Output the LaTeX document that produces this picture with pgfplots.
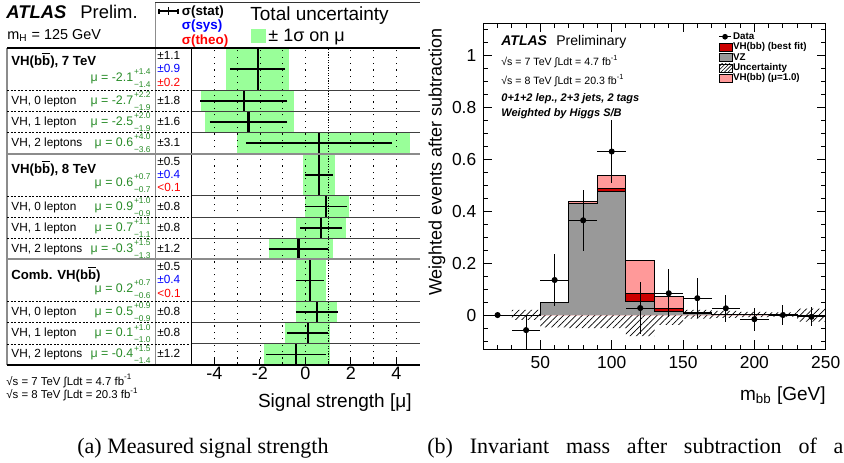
\documentclass[border=0pt]{standalone}
\usepackage{graphicx}
\usepackage{pgfplots}
\pgfplotsset{compat=1.18}
\usepackage{pgfplotstable}
\usepgfplotslibrary{fillbetween}
\usetikzlibrary{patterns.meta}
\usepackage{fontspec}
\setmainfont{Liberation Serif}
\setsansfont{Liberation Sans}

\definecolor{boxgreen}{RGB}{153,255,153}
\definecolor{mugreen}{RGB}{40,140,40}
\definecolor{vzgray}{RGB}{153,153,153}
\definecolor{fitred}{RGB}{204,0,0}
\definecolor{mupink}{RGB}{255,153,153}
\definecolor{sepgray}{RGB}{140,140,140}

\newcommand\fs[1]{\fontsize{#1}{#1}\selectfont}
\newcommand\bbar{b$\overline{\mbox{b}}$}
% mu = value with stacked up/down errors
\newcommand\muval[3]{\textcolor{mugreen}{μ = #1\kern0.4pt\makebox[0pt][l]{\raisebox{3.4pt}{\fs{4.2}#2}}\raisebox{-3pt}{\fs{4.2}#3}}}

% left panel: rows counted from the bottom (sub-channel rows 1 unit, combined rows 2 units)
\pgfplotstableread{
yc mu up dn stat
14 -2.1 1.4 1.4 1.1
9 0.6 0.7 0.7 0.5
4 0.2 0.7 0.6 0.5
}\combrows
\pgfplotstableread{
yc mu up dn stat
12.5 -2.7 2.2 1.9 1.8
11.5 -2.5 2.0 1.9 1.6
10.5 0.6 4.0 3.6 3.1
7.5 0.9 1.0 0.9 0.8
6.5 0.7 1.1 1.1 0.8
5.5 -0.3 1.5 1.3 1.2
2.5 0.5 0.9 0.9 0.8
1.5 0.1 1.0 1.0 0.8
0.5 -0.4 1.5 1.4 1.2
}\chanrows

% right panel: bin left edges, cumulative stack tops
\pgfplotstableread{
x vz fit mu1
10 0 0 0
30 0 0 0
50 0.047 0.047 0.047
70 0.428 0.431 0.438
90 0.475 0.488 0.539
110 0.051 0.084 0.212
130 0.015 0.026 0.073
150 0.006 0.006 0.008
170 0.004 0.004 0.004
190 0.002 0.002 0.002
210 0.001 0.001 0.001
230 0 0 0
250 0 0 0
}\stack
\pgfplotstableread{
x lo hi
30 -0.019 0.020
50 -0.047 0.045
70 -0.050 0.049
90 -0.050 0.049
110 -0.081 0.058
130 -0.038 0.032
150 -0.014 0.020
170 -0.011 0.016
190 -0.008 0.012
210 -0.006 0.010
230 -0.025 0.025
250 -0.025 0.025
}\band
\pgfplotstableread{
x y ex eyp eym
20 0.000 10 0.006 0.006
40 -0.058 10 0.055 0.075
60 0.135 10 0.100 0.100
80 0.365 10 0.117 0.117
100 0.630 10 0.120 0.120
120 0.027 10 0.100 0.100
140 0.084 10 0.092 0.092
160 0.065 10 0.076 0.076
180 0.026 10 0.051 0.051
200 -0.016 10 0.044 0.044
220 0.000 10 0.040 0.040
240 -0.007 10 0.037 0.037
}\datapts

\begin{document}
\begin{tikzpicture}[x=0.5pt, y=-0.5pt, font=\sffamily]

%% ---------------- left panel ----------------
\begin{axis}[
  at={(95.85pt,-182.5pt)}, anchor=south west,
  scale only axis, width=113.65pt, height=158.5pt,
  xmin=-5, xmax=5, ymin=0, ymax=15,
  axis line style={draw=none},
  ytick=\empty,
  xtick={-4,-2,0,2,4}, minor xtick={-3,-1,3},
  xtick pos=left, tick align=inside,
  major tick length=3pt, minor tick length=1.5pt,
  tick style={black, line width=0.5pt},
  grid=both,
  major grid style={black, line width=0.35pt, dash pattern=on 0.6pt off 2.6pt},
  minor grid style={black, line width=0.35pt, dash pattern=on 0.6pt off 2.6pt},
  extra x ticks={1}, extra x tick labels={},
  extra x tick style={grid=major, major tick length=1.5pt,
    major grid style={black, line width=0.35pt, dash pattern=on 0.6pt off 0.7pt}},
  axis on top,
  xticklabel style={font=\sffamily\fs{9}, inner sep=0pt, anchor=north, yshift=-0.8pt},
  /pgf/number format/assume math mode=true,
]
% total uncertainty boxes
\addplot[draw=none, mark=none, error bars/.cd, x dir=both, x explicit, error mark=none,
  error bar style={draw=boxgreen, line width=21.13pt}]
  table[x=mu, y=yc, x error plus=up, x error minus=dn]{\combrows};
\addplot[draw=none, mark=none, error bars/.cd, x dir=both, x explicit, error mark=none,
  error bar style={draw=boxgreen, line width=10.57pt}]
  table[x=mu, y=yc, x error plus=up, x error minus=dn]{\chanrows};
% statistical errors
\addplot[draw=none, mark=none, error bars/.cd, x dir=both, x explicit,
  error bar style={draw=black, line width=0.9pt},
  error mark options={black, line width=0.9pt, mark size=1.3pt}]
  table[x=mu, y=yc, x error=stat]{\combrows};
\addplot[draw=none, mark=none, error bars/.cd, x dir=both, x explicit,
  error bar style={draw=black, line width=0.9pt},
  error mark options={black, line width=0.9pt, mark size=1.3pt}]
  table[x=mu, y=yc, x error=stat]{\chanrows};
% central values
\addplot[draw=none, mark=none, error bars/.cd, y dir=both, y fixed=1, error mark=none,
  error bar style={draw=black, line width=1.1pt}]
  table[x=mu, y=yc]{\combrows};
\addplot[draw=none, mark=none, error bars/.cd, y dir=both, y fixed=0.5, error mark=none,
  error bar style={draw=black, line width=1.1pt}]
  table[x=mu, y=yc]{\chanrows};
\end{axis}

% table frame
\draw[sepgray, line width=0.7pt] (7,48) -- (7,365);
\draw[sepgray, line width=0.5pt] (155,2.7) -- (155,365);
\draw[black!80, line width=0.5pt] (155,2.7) -- (419.5,2.7);
\draw[black, line width=0.7pt] (7,48) -- (419.5,48);
\draw[black, line width=0.6pt] (191.7,48) -- (191.7,365);
\draw[black, line width=0.6pt] (7,365) -- (419.5,365);
\foreach \y in {90.3,111.4,132.5,195.9,217.1,238.2,301.6,322.7,343.9} {
  \draw[black, line width=0.4pt, dash pattern=on 1pt off 0.8pt] (7,\y) -- (191.7,\y);
  \draw[black!75, line width=0.45pt] (191.7,\y) -- (419.5,\y);
}
\foreach \y in {153.7,259.3} \draw[sepgray, line width=1pt] (7,\y) -- (419.5,\y);

% titles
\node[anchor=base west, inner sep=0pt] at (6,18.5) {\fs{9.2}\bfseries\itshape ATLAS};
\node[anchor=base west, inner sep=0pt] at (80,18.5) {\fs{9.2}Prelim.};
\node[anchor=base west, inner sep=0pt] at (7,39.3) {\fs{7.2}m\textsubscript{H} = 125 GeV};

% header
\draw[black, line width=0.9pt] (159,11) -- (178,11);
\draw[black, line width=0.7pt] (159,8.5) -- (159,13.5) (178,8.5) -- (178,13.5) (168.5,7) -- (168.5,15);
\node[anchor=base west, inner sep=0pt] at (181.5,15) {\fs{6.7}\bfseries σ(stat)};
\node[anchor=base west, inner sep=0pt, blue] at (181.5,29.5) {\fs{6.7}\bfseries σ(sys)};
\node[anchor=base west, inner sep=0pt, red] at (181.5,44) {\fs{6.7}\bfseries σ(theo)};
\node[anchor=base west, inner sep=0pt] at (250,20.7) {\fs{9.5}Total uncertainty};
\fill[boxgreen] (250.5,28.5) rectangle (265.5,42.5);
\node[anchor=base west, inner sep=0pt] at (268,41.5) {\fs{9}± 1σ on μ};

% table text: combined rows
\node[anchor=base west, inner sep=0pt] at (11,65.7) {\fs{6.6}\bfseries VH(\bbar), 7 TeV};
\node[anchor=base west, inner sep=0pt] at (11,173.3) {\fs{6.6}\bfseries VH(\bbar), 8 TeV};
\node[anchor=base west, inner sep=0pt] at (11,279.5) {\fs{6.6}\bfseries Comb. VH(\bbar)};
\node[anchor=base east, inner sep=0pt] at (151,81) {\fs{6.2}\muval{-2.1}{+1.4}{−1.4}};
\node[anchor=base east, inner sep=0pt] at (151,186) {\fs{6.2}\muval{0.6}{+0.7}{−0.7}};
\node[anchor=base east, inner sep=0pt] at (151,292) {\fs{6.2}\muval{0.2}{+0.7}{−0.6}};
\foreach \t/\a/\b/\c in {48/±1.1/±0.9/±0.2, 153.7/±0.5/±0.4/<0.1, 259.3/±0.5/±0.4/<0.1} {
  \node[anchor=base west, inner sep=0pt] at (157,\t+11.3) {\fs{5.9}\a};
  \node[anchor=base west, inner sep=0pt, blue] at (157,\t+24.6) {\fs{5.9}\b};
  \node[anchor=base west, inner sep=0pt, red] at (157,\t+38) {\fs{5.9}\c};
}
% table text: channel rows
\foreach \c/\lab/\m/\u/\d/\s in {
  100.8/VH{,} 0 lepton/-2.7/+2.2/−1.9/±1.8,
  122.0/VH{,} 1 lepton/-2.5/+2.0/−1.9/±1.6,
  143.1/VH{,} 2 leptons/0.6/+4.0/−3.6/±3.1,
  206.5/VH{,} 0 lepton/0.9/+1.0/−0.9/±0.8,
  227.6/VH{,} 1 lepton/0.7/+1.1/−1.1/±0.8,
  248.8/VH{,} 2 leptons/-0.3/+1.5/−1.3/±1.2,
  312.2/VH{,} 0 lepton/0.5/+0.9/−0.9/±0.8,
  333.3/VH{,} 1 lepton/0.1/+1.0/−1.0/±0.8,
  354.4/VH{,} 2 leptons/-0.4/+1.5/−1.4/±1.2} {
  \node[anchor=base west, inner sep=0pt] at (11,\c+3.5) {\fs{5.9}\lab};
  \node[anchor=base east, inner sep=0pt] at (151,\c+3.5) {\fs{6.2}\muval{\m}{\u}{\d}};
  \node[anchor=base west, inner sep=0pt] at (157,\c+3.5) {\fs{5.9}\s};
}

\node[anchor=base east, inner sep=0pt] at (412,407) {\fs{9.5}Signal strength [μ]};
\node[anchor=base west, inner sep=0pt] at (6,385) {\fs{5.7}√s = 7 TeV ∫Ldt = 4.7 fb\textsuperscript{-1}};
\node[anchor=base west, inner sep=0pt] at (6,398.3) {\fs{5.7}√s = 8 TeV ∫Ldt = 20.3 fb\textsuperscript{-1}};

%% ---------------- right panel ----------------
\begin{axis}[
  at={(241.65pt,-174.65pt)}, anchor=south west,
  scale only axis, width=171.2pt, height=163pt,
  xmin=10, xmax=250, ymin=-0.132, ymax=1.124,
  xtick={50,100,150,200,250},
  minor xtick={20,30,40,60,70,80,90,110,120,130,140,160,170,180,190,210,220,230,240},
  ytick={0,0.2,0.4,0.6,0.8,1},
  minor ytick={-0.1,-0.05,0.05,0.1,0.15,0.25,0.3,0.35,0.45,0.5,0.55,0.65,0.7,0.75,0.85,0.9,0.95,1.05,1.1},
  tick align=inside, major tick length=4.5pt, minor tick length=2.3pt,
  axis line style={line width=0.6pt},
  tick style={black, line width=0.5pt},
  ticklabel style={font=\sffamily\fs{8.7}},
  /pgf/number format/assume math mode=true,
  legend cell align=left,
  legend style={at={(0.686,0.975)}, anchor=north west, draw=none, fill=none,
    font=\sffamily\bfseries\fs{4.9}, inner sep=0pt, row sep=0.3pt,
    nodes={inner sep=0.3pt, text height=3.4pt, text depth=0.9pt}},
]
\addplot[const plot mark left, fill=mupink, draw=black, line width=0.5pt, forget plot]
  table[x=x, y=mu1]{\stack};
\addplot[const plot mark left, fill=fitred, draw=black, line width=0.5pt, forget plot]
  table[x=x, y=fit]{\stack};
\addplot[const plot mark left, fill=vzgray, draw=black, line width=0.5pt, forget plot]
  table[x=x, y=vz]{\stack};
\addplot[const plot mark left, draw=none, name path=bandhi, forget plot] table[x=x, y=hi]{\band};
\addplot[const plot mark left, draw=none, name path=bandlo, forget plot] table[x=x, y=lo]{\band};
\addplot[draw=none, pattern={Lines[angle=45, distance=2.2pt, line width=0.35pt]}, pattern color=black, forget plot]
  fill between[of=bandhi and bandlo];
\addplot[only marks, mark=*, mark size=1.3pt, black, forget plot,
  error bars/.cd, x dir=both, y dir=both, x explicit, y explicit, error mark=none,
  error bar style={line width=0.5pt, black}]
  table[x=x, y=y, x error=ex, y error plus=eyp, y error minus=eym]{\datapts};

\addlegendimage{legend image code/.code={\draw[black, line width=0.45pt] (0pt,0pt) -- (6pt,0pt); \fill[black] (3pt,0pt) circle (1.2pt);}}
\addlegendentry{Data}
\addlegendimage{legend image code/.code={\draw[black, line width=0.4pt, fill=fitred] (0pt,-2pt) rectangle (6.5pt,2pt);}}
\addlegendentry{VH(bb) (best fit)}
\addlegendimage{legend image code/.code={\draw[black, line width=0.4pt, fill=vzgray] (0pt,-2pt) rectangle (6.5pt,2pt);}}
\addlegendentry{VZ}
\addlegendimage{legend image code/.code={\draw[black, line width=0.4pt, pattern={Lines[angle=45, distance=1.3pt, line width=0.3pt]}] (0pt,-2pt) rectangle (6.5pt,2pt);}}
\addlegendentry{Uncertainty}
\addlegendimage{legend image code/.code={\draw[black, line width=0.4pt, fill=mupink] (0pt,-2pt) rectangle (6.5pt,2pt);}}
\addlegendentry{VH(bb) (μ=1.0)}
\end{axis}

\node[anchor=base west, inner sep=0pt] at (501,45) {\fs{7}\bfseries\itshape ATLAS};
\node[anchor=base west, inner sep=0pt] at (556,45) {\fs{7}Preliminary};
\node[anchor=base west, inner sep=0pt] at (501,65) {\fs{5.3}√s = 7 TeV ∫Ldt = 4.7 fb\textsuperscript{-1}};
\node[anchor=base west, inner sep=0pt] at (501,84) {\fs{5.3}√s = 8 TeV ∫Ldt = 20.3 fb\textsuperscript{-1}};
\node[anchor=base west, inner sep=0pt] at (501,101.7) {\fs{5.5}\bfseries\itshape 0+1+2 lep., 2+3 jets, 2 tags};
\node[anchor=base west, inner sep=0pt] at (501,116.7) {\fs{5.5}\bfseries\itshape Weighted by Higgs S/B};
\node[rotate=90, inner sep=0pt] at (437,162) {\fs{9}Weighted events after subtraction};
\node[anchor=base east, inner sep=0pt] at (826,400) {\fs{9.5}m\textsubscript{bb} [GeV]};

%% captions
\node[anchor=base west, inner sep=0pt] at (77,453) {\rmfamily\fs{11}(a) Measured signal strength};
\node[anchor=base west, inner sep=0pt] at (427,453) {\rmfamily\fs{11}\makebox[208pt][s]{(b) Invariant mass after subtraction of a}};

\pgfresetboundingbox
\useasboundingbox (0,0) rectangle (844,462);
\end{tikzpicture}
\end{document}
